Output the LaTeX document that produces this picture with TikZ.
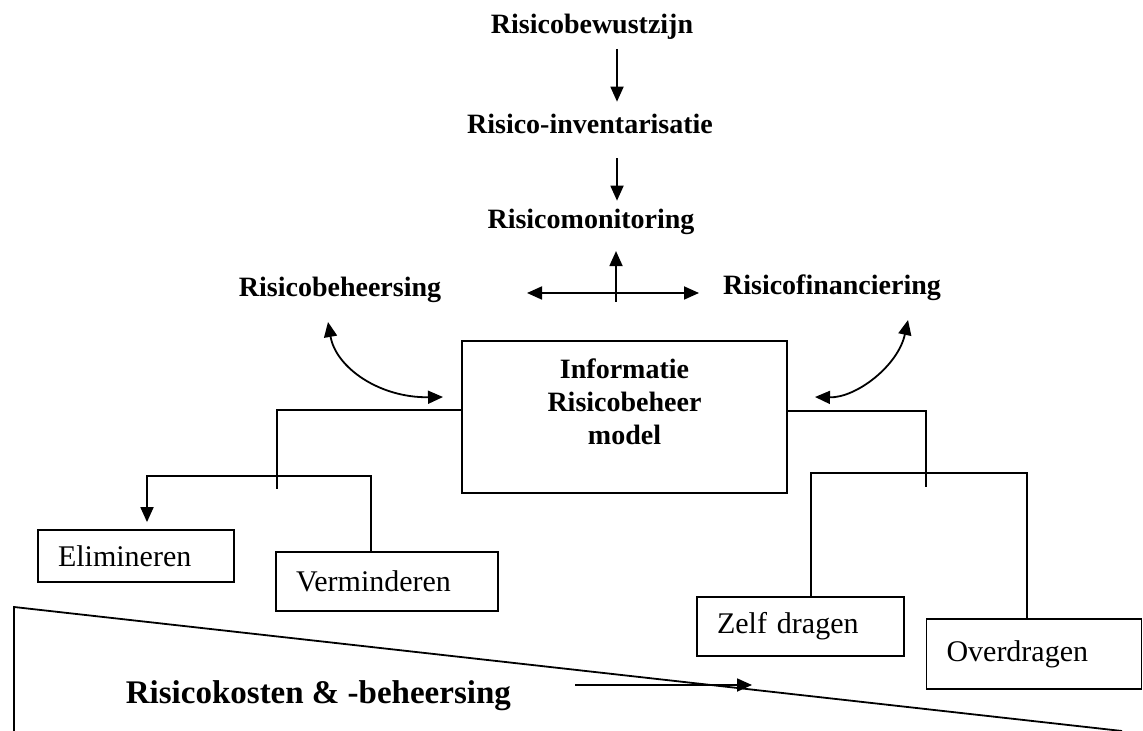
\documentclass[tikz,border=0pt]{standalone}
\usepackage{fontspec}
\setmainfont{Liberation Serif}
\usetikzlibrary{arrows.meta}
\begin{document}
\begin{tikzpicture}[x=0.5pt,y=-0.5pt,
  line width=0.9pt,
  tip/.style={},
  arr/.style={-{Triangle[length=7.5pt,width=6.5pt]}},
  darr/.style={{Triangle[length=7.5pt,width=6.5pt]}-{Triangle[length=7.5pt,width=6.5pt]}},
  lbl/.style={font=\fontsize{14pt}{16.5pt}\selectfont\bfseries, inner sep=0pt, anchor=base},
  opt/.style={draw, font=\fontsize{15pt}{18pt}\selectfont, inner xsep=10pt, inner ysep=0pt, align=left},
  mainbox/.style={draw, minimum width=162.5pt, minimum height=76pt, inner sep=0pt},
  boxtext/.style={font=\fontsize{14pt}{16.5pt}\selectfont\bfseries, align=center, inner sep=0pt, anchor=north},
  costtext/.style={font=\fontsize{16.5pt}{19pt}\selectfont\bfseries, anchor=base west, inner sep=0pt}
]
\useasboundingbox (0,0) rectangle (1143,731);

% top labels
\node[lbl] (bew) at (592,34) {Risicobewustzijn};
\node[lbl] (inv) at (590,134) {Risico-inventarisatie};
\node[lbl] (mon) at (591,229) {Risicomonitoring};
\node[lbl] (beh) at (340,297) {Risicobeheersing};
\node[lbl] (fin) at (832,295) {Risicofinanciering};

% main box
\node[mainbox] (box) at (624.5,417) {};
\node[boxtext] (boxtxt) at (624.5,358) {Informatie\\Risicobeheer\\model};

% option boxes
\node[opt, text width=78pt, minimum height=26pt] (eli) at (136,556) {Elimineren};
\node[opt, text width=91pt, minimum height=29.5pt] (ver) at (387,581.5) {Verminderen};
\node[opt, text width=83.5pt, minimum height=29.5pt] (zel) at (800.5,626.5) {Zelf dragen};
\node[opt, text width=87.5pt, minimum height=35pt] (ove) at (1034,654) {Overdragen};

% vertical chain
\coordinate (ax) at (617,0);
\draw[arr, shorten <=4pt, shorten >=6pt] (bew.south -| ax) -- (inv.north -| ax);
\draw[arr, shorten <=11.5pt, shorten >=4pt] (inv.south -| ax) -- (mon.north -| ax);

% cross
\coordinate (cb) at (616,302);
\draw[arr, shorten >=7.5pt] (cb) -- (mon.south -| cb);
\coordinate (hl) at (527,293);
\coordinate (hr) at (699,293);
\draw[darr] (hl) -- (hr);

% curved arrows
\coordinate (lt) at (328,322);
\coordinate (lr) at (443,397);
\draw[darr] (lt) .. controls (336,368) and (380,398) .. (lr);
\coordinate (rt) at (908,320);
\coordinate (rl) at (815,397);
\draw[darr] (rt) .. controls (898,366) and (856,398) .. (rl);

% left tree
\coordinate (ls) at (277,489);
\draw ([yshift=3.5pt]box.west) -| (ls);
\coordinate (lv) at (371,476);
\coordinate (le) at (147,476);
\draw[arr, shorten >=3.5pt] (ver.north -| lv) -- (lv) -- (le) -- (eli.north -| le);

% right tree
\coordinate (rs) at (926,487);
\draw ([yshift=3pt]box.east) -| (rs);
\coordinate (rz) at (811,473);
\coordinate (ro) at (1027,473);
\draw (zel.north -| rz) -- (rz) -- (ro) -- (ove.north -| ro);

% bottom wedge
\coordinate (b1) at (14,731);
\coordinate (b2) at (14,607);
\coordinate (b3) at (1122,731);
\draw (b1) -- (b2) -- (b3);
\node[costtext] (cost) at (125,703) {Risicokosten \& -beheersing};
\coordinate (a1) at (575,685);
\coordinate (a2) at (752,685);
\draw[arr] (a1) -- (a2);
\end{tikzpicture}
\end{document}
